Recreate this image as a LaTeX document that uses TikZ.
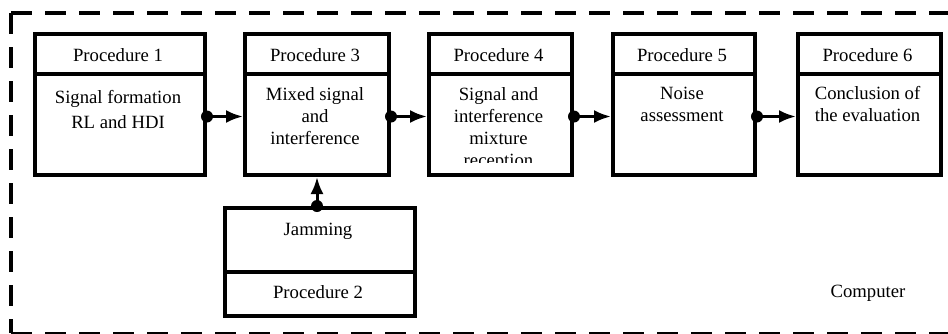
\documentclass[tikz,border=0pt]{standalone}
\usepackage{fontspec}
\setmainfont{Liberation Serif}
\usetikzlibrary{arrows.meta}
\begin{document}
\begin{tikzpicture}[x=1pt,y=-1pt,
  boxpart/.style={draw,line width=4pt,inner sep=0pt,anchor=north west},
  txt/.style={font=\fontsize{18.7}{22}\selectfont,align=center,anchor=base,inner sep=0pt},
  conn/.style={line width=3pt,-{Latex[length=17pt,width=13pt]}},
  frame/.style={line width=4pt,dash pattern=on 21pt off 13pt}
]
\useasboundingbox (0,0) rectangle (948,333);
\clip (0,0) rectangle (948,333);
\draw[frame] (11,13) -- (960,13);
\draw[frame] (11,13) -- (11,333);
\draw[frame,line width=3pt] (11,333) -- (960,333);

% Procedure 1
\node[boxpart,minimum width=170pt,minimum height=40pt] (h1) at (33,32) {};
\node[boxpart,minimum width=170pt,minimum height=101pt] (b1) at (33,72) {};
\node[txt] (h1t) at (118,61.5) {Procedure 1};
\node[txt,font=\fontsize{18.7}{25}\selectfont] (b1t) at (118,128) {Signal formation\\RL and HDI};

% Procedure 3
\node[boxpart,minimum width=144pt,minimum height=40pt] (h3) at (243,32) {};
\node[boxpart,minimum width=144pt,minimum height=101pt] (b3) at (243,72) {};
\node[txt] (h3t) at (315,61.5) {Procedure 3};
\node[txt] (b3t) at (315,144) {Mixed signal\\and\\interference};

% Procedure 4
\node[boxpart,minimum width=143pt,minimum height=40pt] (h4) at (427,32) {};
\node[boxpart,minimum width=143pt,minimum height=101pt] (b4) at (427,72) {};
\node[txt] (h4t) at (498.5,61.5) {Procedure 4};
\begin{scope}
\clip (427,72) rectangle (570,162);
\node[txt] (b4t) at (498.5,166) {Signal and\\interference\\mixture\\reception};
\end{scope}

% Procedure 5
\node[boxpart,minimum width=142pt,minimum height=40pt] (h5) at (611,32) {};
\node[boxpart,minimum width=142pt,minimum height=101pt] (b5) at (611,72) {};
\node[txt] (h5t) at (682,61.5) {Procedure 5};
\node[txt] (b5t) at (682,121.5) {Noise\\assessment};

% Procedure 6
\node[boxpart,minimum width=143pt,minimum height=40pt] (h6) at (796,32) {};
\node[boxpart,minimum width=143pt,minimum height=101pt] (b6) at (796,72) {};
\node[txt] (h6t) at (867.5,61.5) {Procedure 6};
\node[txt] (b6t) at (867.5,121.5) {Conclusion of\\the evaluation};

% Procedure 2
\node[boxpart,minimum width=190pt,minimum height=64pt] (b2) at (223,206) {};
\node[boxpart,minimum width=190pt,minimum height=44pt] (h2) at (223,270) {};
\node[txt] (b2t) at (318,235) {Jamming};
\node[txt] (h2t) at (318,298) {Procedure 2};

% Computer label
\node[txt] (comp) at (868,297) {Computer};

% connectors
\foreach \a/\b in {b1/b3,b3/b4,b4/b5,b5/b6}{
  \fill ([yshift=8pt]\a.east) circle (6pt);
  \draw[conn] ([yshift=8pt]\a.east) -- ([yshift=8pt]\b.west);
}
\coordinate (j) at (b3.south |- b2.north);
\fill (j) circle (6pt);
\draw[conn] (j) -- (b3.south);
\end{tikzpicture}
\end{document}
